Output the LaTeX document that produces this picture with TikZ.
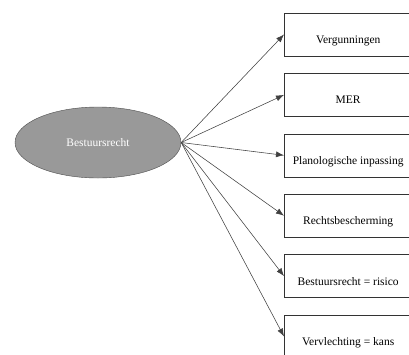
\documentclass[tikz,border=0pt]{standalone}
\usepackage{fontspec}
\setmainfont{Liberation Serif}
\usepackage{tikz}
\usetikzlibrary{positioning}
\usetikzlibrary{arrows.meta,shapes.geometric}
\tikzset{topic/.style={draw=black!80, rectangle, minimum width=128pt, minimum height=43pt, text height=20pt, text depth=2pt, inner sep=0pt, anchor=west}}
\tikzset{hub/.style={draw=black!70, ellipse, fill=black!40, text=white, minimum width=166pt, minimum height=71pt, inner sep=0pt}}
\tikzset{link/.style={-{Latex[length=8pt,width=6pt]}, draw=black!75, line width=0.55pt}}

\begin{document}
\begin{tikzpicture}[x=1pt, y=-1pt, node distance={60.4pt}, font=\fontsize{11.5}{13}\selectfont]
		\useasboundingbox (0,0) rectangle (409,354);
		\clip (0,0) rectangle (409,354);
		\node[hub] (R) at (98,142.5) {Bestuursrecht};
		\node[topic] (V) at (284,34.5) {Vergunningen};
		\node[topic] (M) [below of=V] {MER};
		\node[topic] (P) [below of=M] {Planologische inpassing};
		\node[topic] (B) [below of=P] {Rechtsbescherming};
		\node[topic] (S) [below of=B] {Bestuursrecht = risico};
		\node[topic] (K) [below of=S] {Vervlechting = kans};
		
		\foreach \t in {V,M,P,B,S,K}
			\draw[link] (R.east) -- (\t.west);
	\end{tikzpicture}
\end{document}
